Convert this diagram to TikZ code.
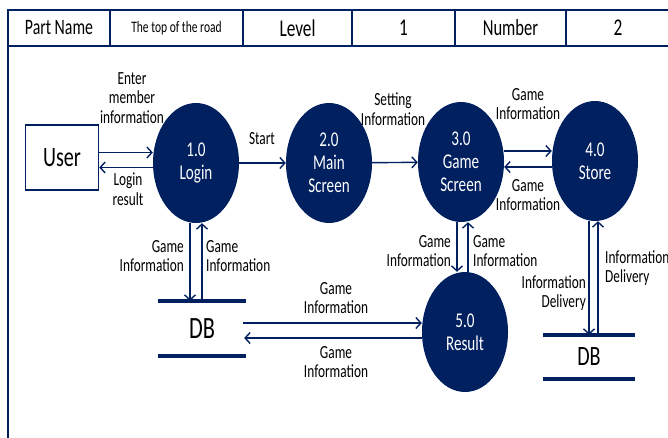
\documentclass[tikz,border=0pt]{standalone}
\usepackage{fontspec}
\setmainfont{Carlito}[FakeStretch=0.72]
\usetikzlibrary{positioning,shapes.geometric,arrows.meta}
\definecolor{navy}{RGB}{0,32,96}

\begin{document}
\begin{tikzpicture}[x=1pt,y=-1pt]
\tikzstyle{every node}+=[inner sep=0pt]
\tikzstyle{cell}=[draw=navy,line width=1.8pt,minimum height=36pt,font=\fontsize{24}{26}\selectfont]
\tikzstyle{process}=[ellipse,fill=navy,text=white,minimum width=86pt,minimum height=120pt,align=center,font=\fontsize{21}{23}\selectfont]
\tikzstyle{datastore}=[font=\fontsize{31}{34}\selectfont]
\tikzstyle{flow}=[navy,line width=1.4pt,-{Straight Barb[length=5pt,width=11pt,line width=1.4pt]}]
\tikzstyle{lbl}=[align=center,font=\fontsize{18.5}{19.5}\selectfont]
\tikzstyle{dbline}=[navy,line width=4pt]
\clip (0,0) rectangle (668,438);
% frame and header
\draw [navy,line width=1.8pt] (8,10) rectangle (690,460);
\node [cell,minimum width=102pt,font=\fontsize{22}{24}\selectfont] (partname) at (59,28) {Part Name};
\node [cell,minimum width=133pt,font=\fontsize{16}{18}\selectfont] (road) at (176.5,28) {The top of the road};
\node [cell,minimum width=109pt] (level) at (297.5,28) {Level};
\node [cell,minimum width=103pt] (one) at (403.5,28) {1};
\node [cell,minimum width=111pt,font=\fontsize{23}{25}\selectfont] (number) at (510.5,28) {Number};
\node [cell,minimum width=104pt] (two) at (618,28) {2};
% entities and processes
\node [draw=navy,line width=1.5pt,minimum width=73pt,minimum height=65pt,font=\fontsize{28}{30}\selectfont] (user) at (62,157.5) {User};
\node [process] (login) at (196,163) {1.0\\Login};
\node [process] (main) at (329,163) {2.0\\Main\\Screen};
\node [process] (game) at (461,162) {3.0\\Game\\Screen};
\node [process] (store) at (595,161) {4.0\\Store};
\node [process] (result) at (465,332) {5.0\\Result};
\node [datastore,minimum width=88pt,minimum height=55pt] (dbA) at (202,328.5) {DB};
\node [datastore,minimum width=92pt,minimum height=44pt,font=\fontsize{28}{30}\selectfont] (dbB) at (589,357) {DB};
\draw [dbline] (dbA.north west) -- (dbA.north east);
\draw [dbline] (dbA.south west) -- (dbA.south east);
\draw [dbline] (dbB.north west) -- (dbB.north east);
\draw [dbline] (dbB.south west) -- (dbB.south east);
% flows
\draw [flow] ([yshift=5pt]user.east) -- ([yshift=5pt]user.east -| login.west);
\draw [flow] ([yshift=-10pt]user.east -| login.west) -- ([yshift=-10pt]user.east);
\draw [flow] (login) -- (main);
\draw [flow] (main) -- (game);
\draw [flow] ([yshift=11pt]game.east) -- ([yshift=11pt]game.east -| store.west);
\draw [flow] ([yshift=-5pt]game.east -| store.west) -- ([yshift=-5pt]game.east);
\draw [flow] ([xshift=-6pt]login.south) -- ([xshift=-6pt]login.south |- dbA.north);
\draw [flow] ([xshift=6pt]login.south |- dbA.north) -- ([xshift=6pt]login.south);
\draw [flow] ([xshift=-4pt]game.south) -- ([xshift=-4pt]game.south |- result.north);
\draw [flow] ([xshift=7pt]game.south |- result.north) -- ([xshift=7pt]game.south);
\draw [flow] ([xshift=-6pt]store.south) -- ([xshift=-6pt]store.south |- dbB.north);
\draw [flow] ([xshift=3pt]store.south |- dbB.north) -- ([xshift=3pt]store.south);
\draw [flow] ([yshift=5.5pt,xshift=-3pt]dbA.east) -- ([yshift=5.5pt]dbA.east -| result.west);
\draw [flow] ([yshift=-9.5pt]dbA.east -| result.west) -- ([yshift=-9.5pt,xshift=-2pt]dbA.east);
% labels
\node [lbl] (enter) at (132,98) {Enter\\member\\information};
\node [lbl] (loginres) at (128,189) {Login\\result};
\node [lbl] (start) at (262,139) {Start};
\node [lbl] (setting) at (393,109) {Setting\\Information};
\node [lbl] (toStore) at (528,104) {Game\\Information};
\node [lbl] (fromStore) at (528,195) {Game\\Information};
\node [lbl,anchor=east,align=right] (toDbA) at (184,256) {Game\\Information};
\node [lbl,anchor=west,align=left] (fromDbA) at (206,256) {Game\\Information};
\node [lbl] (toResult) at (336,298) {Game\\Information};
\node [lbl] (fromResult) at (336,362) {Game\\Information};
\node [lbl,anchor=east,align=right] (gameDown) at (451,251) {Game\\Information};
\node [lbl,anchor=west,align=left] (gameUp) at (473,251) {Game\\Information};
\node [lbl,anchor=east,align=right] (toDbB) at (586,293) {Information\\Delivery};
\node [lbl,anchor=west,align=left] (fromDbB) at (605,268) {Information\\Delivery};
\end{tikzpicture}
\end{document}
